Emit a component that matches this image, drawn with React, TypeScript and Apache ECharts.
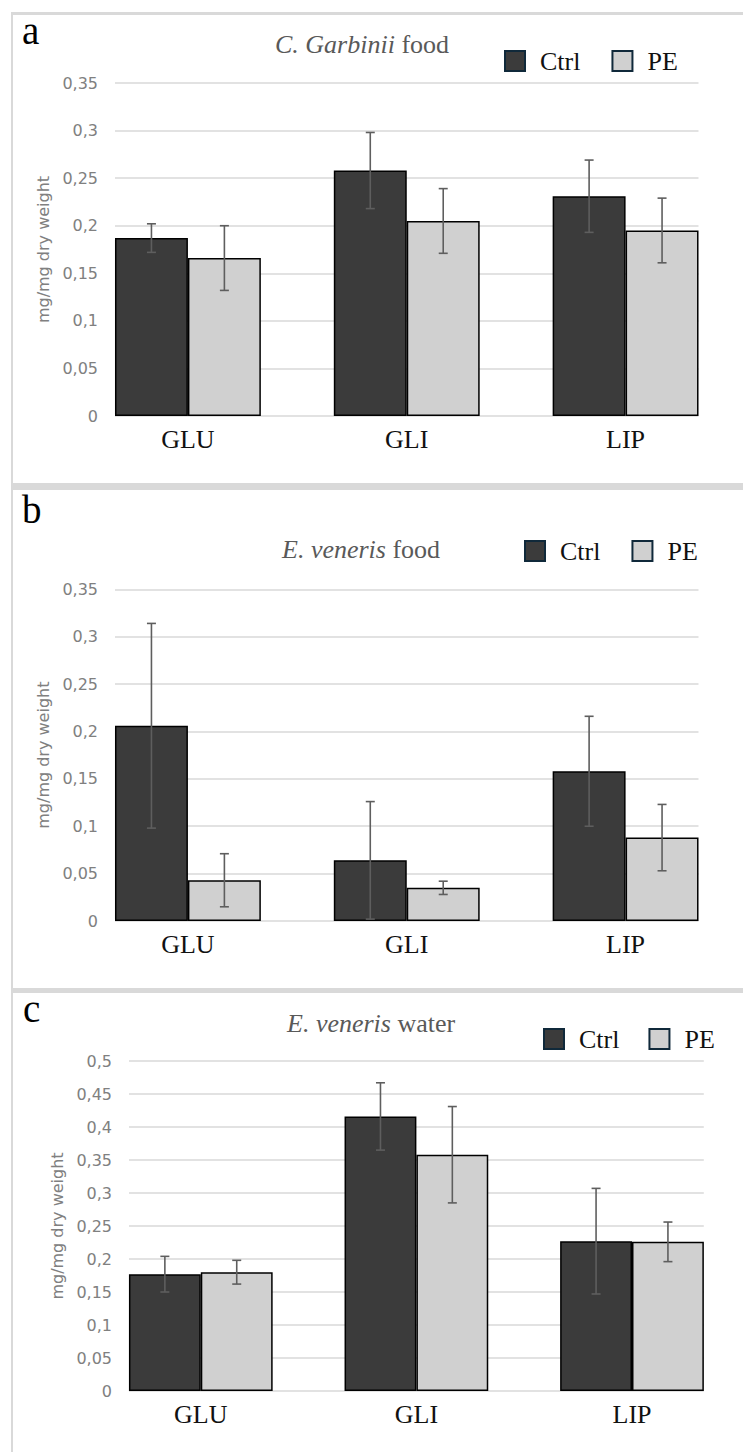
import React, { useEffect, useRef } from "react";
import * as echarts from "echarts";

// ---- data ----
const categories = ["GLU", "GLI", "LIP"];
const seriesNames = ["Ctrl", "PE"];

const aCtrl = [0.187, 0.258, 0.231];
const aCtrlErr = [0.015, 0.04, 0.038];
const aPE = [0.166, 0.205, 0.195];
const aPEErr = [0.034, 0.034, 0.034];

const bCtrl = [0.206, 0.064, 0.158];
const bCtrlErr = [0.108, 0.062, 0.058];
const bPE = [0.043, 0.035, 0.088];
const bPEErr = [0.028, 0.007, 0.035];

const cCtrl = [0.177, 0.416, 0.227];
const cCtrlErr = [0.027, 0.051, 0.08];
const cPE = [0.18, 0.358, 0.226];
const cPEErr = [0.018, 0.073, 0.03];

const panelLetters = ["a", "b", "c"];
const titleItalic = ["C. Garbinii", "E. veneris", "E. veneris"];
const titleRest = [" food", " food", " water"];
const yMax = [0.35, 0.35, 0.5];
const yInterval = 0.05;
const yAxisName = "mg/mg dry weight";

// ---- layout (pixels) ----
const layout = [
  { gl: 115, gr: 698.5, top: 83, bottom: 416, half: 36.5, letterX: 22, letterY: 30, titleX: 275, titleY: 44, legLeft: 504, legTop: 48, legGap: 31 },
  { gl: 115, gr: 698.5, top: 589.3, bottom: 921, half: 36.5, letterX: 22, letterY: 509, titleX: 282, titleY: 549, legLeft: 524, legTop: 538, legGap: 31 },
  { gl: 129, gr: 703.8, top: 1061, bottom: 1391, half: 36, letterX: 23, letterY: 1008, titleX: 287, titleY: 1023, legLeft: 543, legTop: 1026, legGap: 29 },
];

const CTRL_COLOR = "#3b3b3b";
const PE_COLOR = "#d0d0d0";
const ERR_COLOR = "#5e5e5e";
const GRID_COLOR = "#d9d9d9";
const LEG_BORDER = "#10293a";

const fmt = (v: number) => String(Math.round(v * 100) / 100).replace(".", ",");

function buildOption() {
  const data = [
    [aCtrl, aCtrlErr, aPE, aPEErr],
    [bCtrl, bCtrlErr, bPE, bPEErr],
    [cCtrl, cCtrlErr, cPE, cPEErr],
  ];
  const grid: any[] = [];
  const xAxis: any[] = [];
  const yAxis: any[] = [];
  const series: any[] = [];
  const legend: any[] = [];
  const graphic: any[] = [];

  layout.forEach((L, p) => {
    const H = L.bottom - L.top;
    grid.push({ left: L.gl, top: L.top, width: L.gr - L.gl, height: H });
    grid.push({ left: L.gl - L.half, top: L.top, width: L.gr - L.gl + 2 * L.half, height: H });
    const gLab = 2 * p;
    const gBar = 2 * p + 1;
    xAxis.push({ type: "category", gridIndex: gLab, data: categories, show: false });
    xAxis.push({
      type: "category",
      gridIndex: gBar,
      data: categories,
      axisLine: { show: false },
      axisTick: { show: false },
      axisLabel: {
        margin: 10,
        fontFamily: "Liberation Serif",
        fontSize: 26,
        lineHeight: 26,
        color: "#111",
      },
    });
    yAxis.push({
      type: "value",
      gridIndex: gLab,
      min: 0,
      max: yMax[p],
      interval: yInterval,
      axisLine: { show: false },
      axisTick: { show: false },
      axisLabel: {
        margin: 17,
        fontFamily: "DejaVu Sans",
        fontSize: 16,
        color: "#808080",
        formatter: (v: number) => fmt(v),
      },
      splitLine: { show: true, lineStyle: { color: GRID_COLOR, width: 1.6 } },
      name: yAxisName,
      nameLocation: "middle",
      nameGap: p === 2 ? 56 : 58,
      nameTextStyle: { fontFamily: "DejaVu Sans", fontSize: 16, color: "#808080" },
    });
    yAxis.push({ type: "value", gridIndex: gBar, min: 0, max: yMax[p], interval: yInterval, show: false });

    const [ctrl, ctrlErr, pe, peErr] = data[p];
    series.push({
      type: "bar",
      name: seriesNames[0],
      xAxisIndex: gBar,
      yAxisIndex: gBar,
      data: ctrl,
      barWidth: "33.33%",
      barGap: "0%",
      itemStyle: { color: CTRL_COLOR, borderColor: "#000", borderWidth: 1.5 },
      z: 2,
    });
    series.push({
      type: "bar",
      name: seriesNames[1],
      xAxisIndex: gBar,
      yAxisIndex: gBar,
      data: pe,
      barWidth: "33.33%",
      barGap: "0%",
      itemStyle: { color: PE_COLOR, borderColor: "#000", borderWidth: 1.5 },
      z: 2,
    });
    [
      { vals: ctrl, errs: ctrlErr, sign: -1 },
      { vals: pe, errs: peErr, sign: 1 },
    ].forEach((s) => {
      series.push({
        type: "custom",
        xAxisIndex: gBar,
        yAxisIndex: gBar,
        z: 5,
        clip: false,
        silent: true,
        encode: { x: 0, y: 1 },
        data: s.vals.map((v, i) => [i, v, s.errs[i]]),
        renderItem: (params: any, api: any) => {
          const ci = api.value(0);
          const m = api.value(1);
          const e = api.value(2);
          const band = api.size([1, 0])[0];
          const c = api.coord([ci, m]);
          const x = c[0] + (s.sign * band) / 6;
          const hi = api.coord([ci, m + e])[1];
          const lo = api.coord([ci, m - e])[1];
          const style = { stroke: ERR_COLOR, lineWidth: 1.6 };
          const cap = 4.5;
          return {
            type: "group",
            children: [
              { type: "line", shape: { x1: x, y1: hi, x2: x, y2: lo }, style },
              { type: "line", shape: { x1: x - cap, y1: hi, x2: x + cap, y2: hi }, style },
              { type: "line", shape: { x1: x - cap, y1: lo, x2: x + cap, y2: lo }, style },
            ],
          };
        },
      });
    });

    legend.push({
      left: L.legLeft,
      top: L.legTop,
      orient: "horizontal",
      itemWidth: 20,
      itemHeight: 20,
      itemGap: L.legGap,
      padding: 0,
      selectedMode: false,
      icon: "rect",
      textStyle: { fontFamily: "Liberation Serif", fontSize: 26, color: "#111", padding: [0, 0, 0, 10] },
      data: [
        { name: seriesNames[0], itemStyle: { color: CTRL_COLOR, borderColor: LEG_BORDER, borderWidth: 2 } },
        { name: seriesNames[1], itemStyle: { color: PE_COLOR, borderColor: LEG_BORDER, borderWidth: 2 } },
      ],
    });

    graphic.push({
      type: "text",
      x: L.letterX,
      y: L.letterY,
      style: {
        text: panelLetters[p],
        fontFamily: "Liberation Serif",
        fontSize: 39,
        fill: "#000",
        verticalAlign: "middle",
        align: "left",
      },
    });
    graphic.push({
      type: "text",
      x: L.titleX,
      y: L.titleY,
      style: {
        text: "{i|" + titleItalic[p] + "}{n|" + titleRest[p] + "}",
        verticalAlign: "middle",
        align: "left",
        rich: {
          i: { fontFamily: "Liberation Serif", fontSize: 26, fontStyle: "italic", fill: "#595959", color: "#595959" },
          n: { fontFamily: "Liberation Serif", fontSize: 26, fill: "#595959", color: "#595959" },
        },
      },
    });
  });

  // panel frames
  graphic.push({ type: "line", z: -1, shape: { x1: 11, y1: 13.5, x2: 743, y2: 13.5 }, style: { stroke: GRID_COLOR, lineWidth: 3 } });
  graphic.push({ type: "line", z: -1, shape: { x1: 12, y1: 12, x2: 12, y2: 1452 }, style: { stroke: GRID_COLOR, lineWidth: 2 } });
  graphic.push({ type: "rect", z: -1, shape: { x: 11, y: 483, width: 732, height: 7 }, style: { fill: GRID_COLOR } });
  graphic.push({ type: "rect", z: -1, shape: { x: 11, y: 988, width: 732, height: 5 }, style: { fill: GRID_COLOR } });

  return { animation: false, backgroundColor: "#fff", grid, xAxis, yAxis, series, legend, graphic };
}

export default function App() {
  const ref = useRef<HTMLDivElement>(null);
  useEffect(() => {
    if (!ref.current) return;
    const chart = echarts.init(ref.current, undefined, { renderer: "svg" });
    chart.setOption(buildOption() as any);
    return () => chart.dispose();
  }, []);
  return (
    <div
      ref={ref}
      style={{ position: "absolute", left: 0, top: 0, width: 743, height: 1452, background: "#fff" }}
    />
  );
}
